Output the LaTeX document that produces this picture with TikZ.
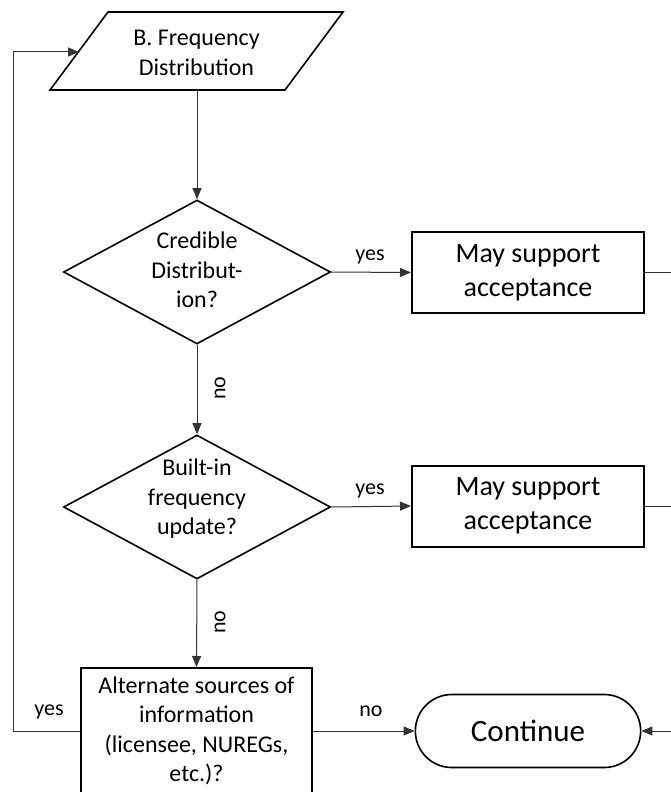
\documentclass[tikz,border=0pt]{standalone}
\usepackage{fontspec}
\setmainfont{Carlito}
\usetikzlibrary{arrows.meta,shapes.geometric,shapes.misc}
\begin{document}
\begin{tikzpicture}[x=1pt,y=-1pt,
  conn/.style={line width=1pt, draw=black!80},
  arr/.style={conn, -{Triangle[length=11pt,width=9pt]}},
  smalltxt/.style={font=\fontsize{24}{29.5}\selectfont, align=center, inner sep=0pt},
  bigtxt/.style={font=\fontsize{28}{34}\selectfont, align=center},
  lbl/.style={font=\fontsize{22}{26}\selectfont, inner sep=0pt},
  decision/.style={draw, diamond, line width=1.6pt, minimum width=267pt, minimum height=144pt, inner sep=0pt},
  outbox/.style={draw, rectangle, line width=2pt, minimum width=232pt, minimum height=81pt, inner sep=0pt},
]
\useasboundingbox (0,0) rectangle (670,792);

% input parallelogram
\draw[line width=1.6pt, line join=miter] (108,12) -- (343,12) -- (285,90) -- (50,90) -- cycle;
\node[smalltxt] (freq) at (196.5,53) {B. Frequency\\Distribution};
\coordinate (freqin) at (79,52);
\coordinate (freqout) at (197,90);

% decisions
\node[decision] (d1) at (197,272) {};
\node[smalltxt] (d1txt) at (197,270) {Credible\\Distribut-\\ion?};
\node[decision] (d2) at (197,507) {};
\node[smalltxt] (d2txt) at (197,499) {Built-in\\frequency\\update?};

% outcome boxes
\node[outbox, bigtxt] (b1) at (528,272.5) {May support\\acceptance};
\node[outbox, bigtxt] (b2) at (528,506) {May support\\acceptance};
\node[draw, rectangle, line width=2pt, minimum width=231pt, minimum height=126pt, inner sep=0pt,
      smalltxt] (b3) at (196.5,731) {Alternate sources of\\information\\(licensee, NUREGs,\\etc.)?};
\node[draw, rounded rectangle, line width=1.6pt, minimum width=232pt, minimum height=73pt,
      font=\fontsize{31}{36}\selectfont] (cont) at (528,731) {Continue};

% connectors
\draw[arr] (freqout) -- (d1.north);
\draw[arr] (d1.east) -- (b1.west);
\node[lbl] (yes1) at (370,257) {yes};
\draw[arr] (d1.south) -- (d2.north);
\node[lbl, rotate=90] (no1) at (220,388) {no};
\draw[arr] (d2.east) -- (b2.west);
\node[lbl] (yes2) at (370,491) {yes};
\draw[arr] (d2.south) -- (b3.north);
\node[lbl, rotate=90] (no2) at (220,622) {no};
\draw[arr] (b3.east) -- (cont.west);
\node[lbl] (no3) at (371,711) {no};

\coordinate (loopcorner) at (13,731);
\draw[arr] (b3.west) -- (loopcorner) |- (freqin);
\node[lbl] (yes3) at (49,712) {yes};

\coordinate (r1) at (672,272.5);
\coordinate (r2) at (672,506);
\coordinate (r3) at (672,731);
\draw[conn] (b1.east) -- (r1);
\draw[conn] (b2.east) -- (r2);
\draw[arr] (r3) -- (cont.east);
\end{tikzpicture}
\end{document}
